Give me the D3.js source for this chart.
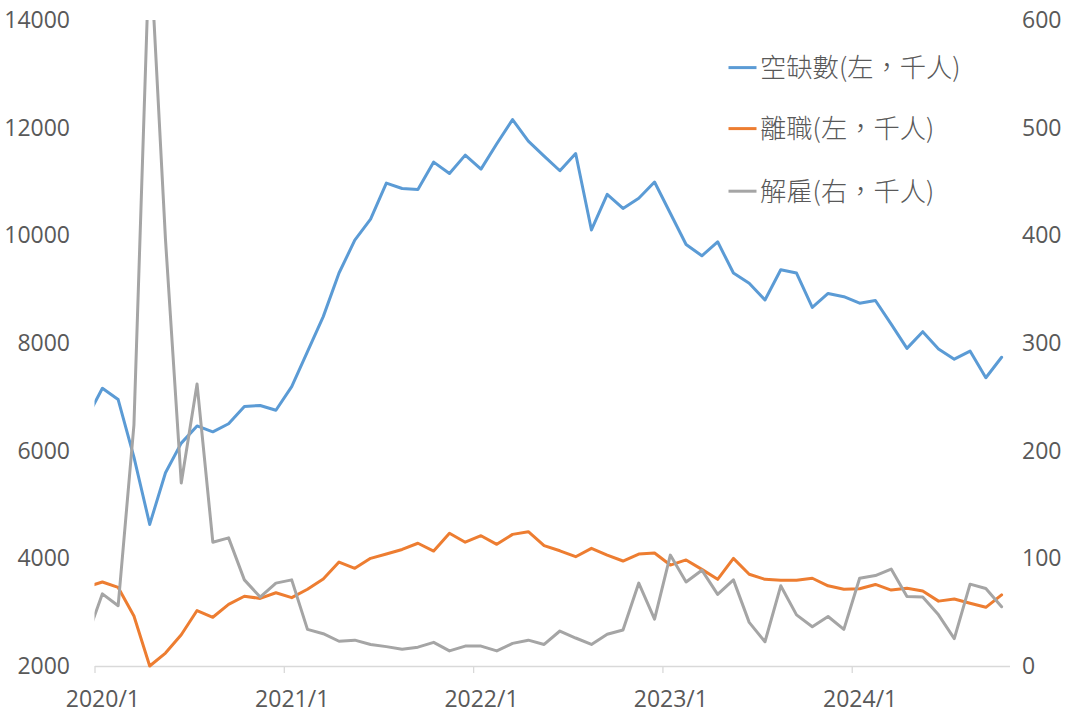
<!DOCTYPE html>
<html lang="zh-TW"><head><meta charset="utf-8">
<script src="https://cdn.jsdelivr.net/npm/d3@7"></script>
<style>body{margin:0;background:#fff}svg{display:block}</style>
</head><body><svg id="chart" width="1077" height="718"></svg>
<script>
// ---- data ----
const months = (function(){const a=["2019/12"];for(let y=2020;y<=2024;y++){for(let m=1;m<=12;m++){if(y===2024&&m>10)break;a.push(y+"/"+m);}}return a;})();
const openings = [6600,7160,6950,5880,4630,5590,6140,6460,6350,6500,6820,6840,6750,
  7190,7840,8490,9300,9910,10300,10970,10870,10850,11360,11150,11490,
  11230,11700,12150,11750,11470,11200,11520,10100,10760,10500,10690,10990,
  10410,9830,9620,9880,9300,9110,8800,9360,9300,8660,8920,8860,
  8740,8790,8350,7900,8210,7890,7700,7850,7355,7735];
const quits = [3470,3560,3460,2930,2000,2240,2580,3030,2905,3145,3295,3255,3360,
  3270,3425,3615,3930,3815,4000,4080,4165,4280,4135,4465,4300,
  4420,4260,4445,4495,4235,4140,4030,4185,4060,3950,4080,4100,
  3875,3970,3795,3610,4000,3705,3610,3595,3595,3630,3490,3425,
  3435,3515,3410,3445,3395,3205,3245,3165,3090,3320];
const layoffs = [26,67,56,224,675,396,170,262,115,119,80,64,77,
  80,34,30,23,24,20,18,15.5,17.5,22,14,18.5,
  18.5,14,21,24,20,32.5,26,20,29.5,33.5,77,43.5,
  103,78,89,66.5,80,40.5,22.5,74.5,47.5,36.5,46,34,
  81.5,84,90,64.5,64,47.5,25.5,76,72,55];
const leftTicks = [2000,4000,6000,8000,10000,12000,14000];
const rightTicks = [0,100,200,300,400,500,600];
const yearTicks = ["2020/1","2021/1","2022/1","2023/1","2024/1"];
const seriesNames = ["空缺數(左，千人)","離職(左，千人)","解雇(右，千人)"];
const seriesColors = ["#5B9BD5","#ED7D31","#A5A5A5"];

// ---- layout ----
const svg = d3.select("#chart");
const plot = {left:94.5, right:1009.5, top:20, bottom:666};
const axisFont = "'Open Sans', 'Noto Sans', sans-serif";
const textColor = "#595959";

// month boundary index: 0 = start of 2020/1 ; data point j sits at centre of its month
const x = d3.scaleLinear().domain([0, 58]).range([plot.left, plot.right]);
const px = (j) => x(j - 0.5);
const yL = d3.scaleLinear().domain([2000,14000]).range([plot.bottom, plot.top]);
const yR = d3.scaleLinear().domain([0,600]).range([plot.bottom, plot.top]);

svg.append("rect").attr("width",1077).attr("height",718).attr("fill","#fff");

svg.append("defs").append("clipPath").attr("id","plotclip")
  .append("rect").attr("x",plot.left).attr("y",plot.top)
  .attr("width",plot.right-plot.left+2).attr("height",plot.bottom-plot.top+2);

// x axis
const tickIdx = yearTicks.map(t => months.indexOf(t) - 1);
const xAxis = d3.axisBottom(x).tickValues(tickIdx).tickSizeInner(7).tickSizeOuter(0)
  .tickFormat((d,i)=>yearTicks[i]);
const gx = svg.append("g").attr("transform",`translate(0,${plot.bottom})`).call(xAxis);
gx.select(".domain").attr("stroke","#D9D9D9").attr("stroke-width",1.3);
gx.selectAll(".tick line").attr("stroke","#D9D9D9").attr("stroke-width",1.3);
gx.selectAll(".tick text")
  .attr("x", x(0.5)-x(0)).attr("y", 41).attr("dy", 0)
  .attr("fill",textColor).style("font-family",axisFont).style("font-size","23px");

// left axis
const gl = svg.append("g").attr("transform","translate(72,0)")
  .call(d3.axisLeft(yL).tickValues(leftTicks).tickSize(0).tickPadding(2).tickFormat(d3.format("d")));
gl.select(".domain").remove();
gl.selectAll("text").attr("fill",textColor).style("font-family",axisFont).style("font-size","23px");

// right axis
const gr = svg.append("g").attr("transform","translate(1020,0)")
  .call(d3.axisRight(yR).tickValues(rightTicks).tickSize(0).tickPadding(2).tickFormat(d3.format("d")));
gr.select(".domain").remove();
gr.selectAll("text").attr("fill",textColor).style("font-family",axisFont).style("font-size","23px");

// lines
const series = [
  {vals: openings, y: yL},
  {vals: quits, y: yL},
  {vals: layoffs, y: yR}
];
const gLines = svg.append("g").attr("clip-path","url(#plotclip)");
series.forEach((s,k)=>{
  const line = d3.line().x((d,j)=>px(j)).y(d=>s.y(d));
  gLines.append("path").datum(s.vals).attr("d",line)
    .attr("fill","none").attr("stroke",seriesColors[k]).attr("stroke-width",3)
    .attr("stroke-linejoin","round").attr("stroke-linecap","round");
});

// legend
const legendY = [67.6, 128.6, 191.2];
const lg = svg.append("g");
seriesNames.forEach((n,k)=>{
  lg.append("line").attr("x1",728.5).attr("x2",756.5)
    .attr("y1",legendY[k]).attr("y2",legendY[k])
    .attr("stroke",seriesColors[k]).attr("stroke-width",3);
  lg.append("text").attr("x",760).attr("y",legendY[k]+9.3)
    .attr("lang","zh-TW")
    .attr("fill",textColor)
    .style("font-family","'Noto Sans CJK TC','Noto Sans CJK SC',sans-serif")
    .style("font-weight","300")
    .style("font-size","26.3px").text(n);
});
</script></body></html>
